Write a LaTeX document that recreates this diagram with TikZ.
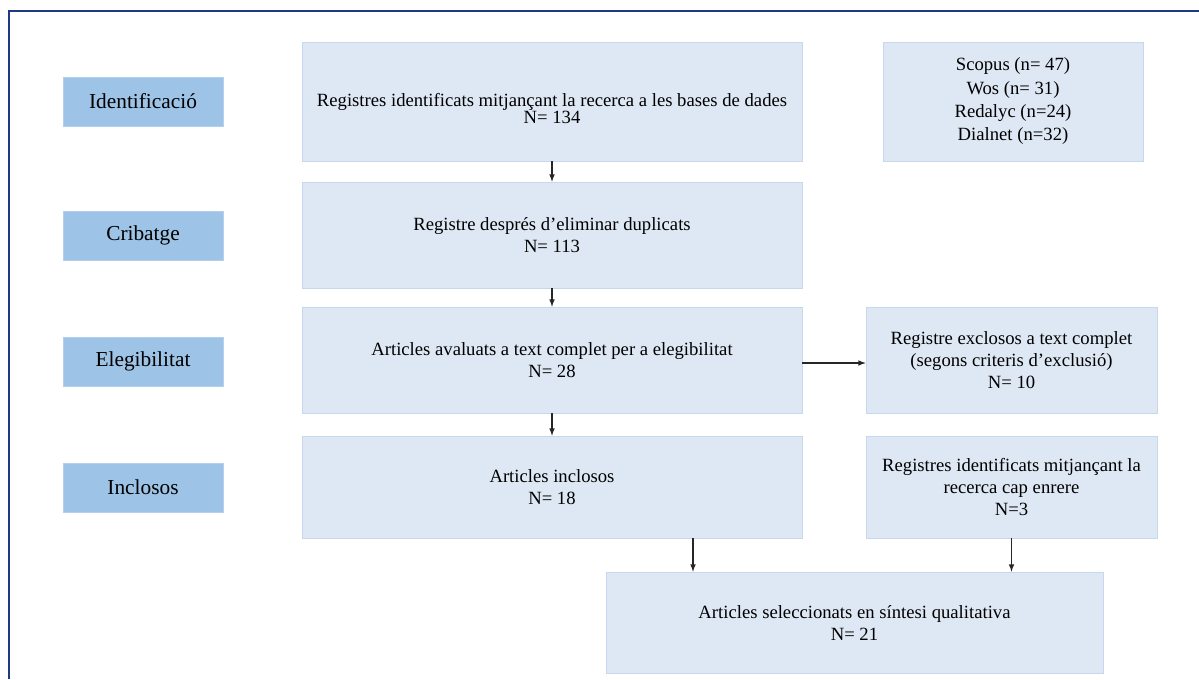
\documentclass[tikz,border=0pt]{standalone}
\usepackage{fontspec}
\setmainfont{Liberation Serif}
\usetikzlibrary{arrows,calc}
\definecolor{boxfill}{HTML}{DEE8F4}
\definecolor{boxline}{HTML}{C6D8EC}
\definecolor{stagefill}{HTML}{9DC3E6}
\definecolor{stageline}{HTML}{B4D0EC}
\definecolor{framecol}{HTML}{1F3A80}
\tikzstyle{stage} = [draw=stageline, fill=stagefill, minimum width=120pt, minimum height=36.75pt, inner sep=0pt, font={\fontsize{16}{19}\selectfont}]
\tikzstyle{recbox} = [draw=boxline, fill=boxfill, inner sep=0pt, align=center, font={\fontsize{14}{16.5}\selectfont}]
\tikzstyle{flow} = [draw=black!85, line width=0.9pt, -latex]

\begin{document}
\begin{tikzpicture}[x=0.75pt, y=-0.75pt]
  \useasboundingbox (0,0) rectangle (1199,679);
  \draw[framecol, line width=1.6pt] (9,679) -- (9,11) -- (1199,11);

  % stage labels
  \node[stage, at={(143,101.5)}] (ident) {Identificació};
  \node[stage, at={(143,235.5)}] (crib) {Cribatge};
  \node[stage, at={(143,361.5)}] (eleg) {Elegibilitat};
  \node[stage, at={(143,487.5)}] (incl) {Inclosos};

  % records
  \node[recbox, minimum width=375pt, minimum height=89.25pt, at={(552,101.5)}] (found)
    {\raisebox{-7pt}[\height][\depth]{\begin{tabular}{@{}c@{}}Registres identificats mitjançant la recerca a les bases de dades\\[-3.5pt]N= 134\end{tabular}}};
  \node[recbox, minimum width=195pt, minimum height=89.25pt, at={(1013,101.5)}, font={\fontsize{14}{17.5}\selectfont}] (bases)
    {Scopus (n= 47)\\Wos (n= 31)\\Redalyc (n=24)\\Dialnet (n=32)};
  \node[recbox, minimum width=375pt, minimum height=79.5pt, at={(552,235)}] (dedup)
    {Registre després d’eliminar duplicats\\N= 113};
  \node[recbox, minimum width=375pt, minimum height=79.5pt, at={(552,360)}] (full)
    {Articles avaluats a text complet per a elegibilitat\\N= 28};
  \node[recbox, minimum width=218.25pt, minimum height=79.5pt, at={(1011.5,360)}] (excl)
    {Registre exclosos a text complet\\(segons criteris d’exclusió)\\N= 10};
  \node[recbox, minimum width=375pt, minimum height=76.5pt, at={(552,487)}] (incart)
    {Articles inclosos\\N= 18};
  \node[recbox, minimum width=218.25pt, minimum height=76.5pt, at={(1011.5,487)}] (back)
    {Registres identificats mitjançant la\\recerca cap enrere\\N=3};
  \node[recbox, minimum width=372.75pt, minimum height=75.75pt, at={(854.5,622.5)}] (synth)
    {Articles seleccionats en síntesi qualitativa\\N= 21};

  \coordinate (drop) at ($(incart.south)+(141,0)$);

  \draw[flow] (found) -- (dedup);
  \draw[flow] (dedup) -- (full);
  \draw[flow] (full) -- (incart);
  \draw[flow] ([yshift=-2.25pt]full.east) -- ([yshift=-2.25pt]excl.west);
  \draw[flow] (drop) -- (drop |- synth.north);
  \draw[flow] (back) -- (back |- synth.north);
\end{tikzpicture}
\end{document}
